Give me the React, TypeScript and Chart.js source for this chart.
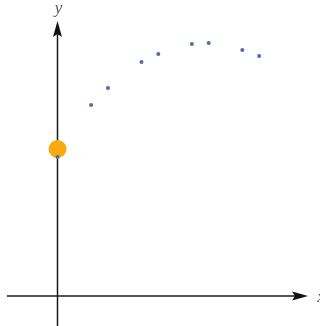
import React, { useEffect, useRef } from "react";
import { Chart, registerables } from "chart.js";

Chart.register(...registerables);

const xValues = [2, 3, 5, 6, 8, 9, 11, 12];
const yValues = [19.1, 20.8, 23.4, 24.2, 25.2, 25.3, 24.6, 24.0];
const interceptX = [0];
const interceptY = [14.7];
const hiddenDotY = [13.9];

const axisPlugin = {
  id: "arrowAxes",
  beforeDatasetsDraw(chart: any) {
    const { ctx, scales, height } = chart;
    const x0 = scales.x.getPixelForValue(0);
    const y0 = scales.y.getPixelForValue(0);
    ctx.save();
    ctx.strokeStyle = "#1a1a1a";
    ctx.fillStyle = "#111";
    ctx.lineWidth = 1.5;
    // x axis
    ctx.beginPath();
    ctx.moveTo(7, y0);
    ctx.lineTo(297, y0);
    ctx.stroke();
    ctx.beginPath();
    ctx.moveTo(308, y0);
    ctx.lineTo(292, y0 - 4.5);
    ctx.lineTo(295, y0);
    ctx.lineTo(292, y0 + 4.5);
    ctx.closePath();
    ctx.fill();
    // y axis
    ctx.beginPath();
    ctx.moveTo(x0, height);
    ctx.lineTo(x0, 32);
    ctx.stroke();
    ctx.beginPath();
    ctx.moveTo(x0, 21);
    ctx.lineTo(x0 - 4.5, 37);
    ctx.lineTo(x0, 34);
    ctx.lineTo(x0 + 4.5, 37);
    ctx.closePath();
    ctx.fill();
    // labels
    ctx.fillStyle = "#555";
    ctx.font = "italic 17px 'Liberation Serif', 'Times New Roman', serif";
    ctx.textAlign = "center";
    ctx.textBaseline = "middle";
    ctx.fillText("y", x0 + 1, 9);
    ctx.fillText("x", 321, y0 + 2);
    ctx.restore();
  },
};

export default function App() {
  const ref = useRef<HTMLCanvasElement>(null);
  useEffect(() => {
    document.body.style.margin = "0";
    const chart = new Chart(ref.current!, {
      type: "scatter",
      data: {
        datasets: [
          {
            data: interceptX.map((x, i) => ({ x, y: hiddenDotY[i] })),
            backgroundColor: "#4a6fa8",
            borderWidth: 0,
            pointRadius: 2,
          },
          {
            data: interceptX.map((x, i) => ({ x, y: interceptY[i] })),
            backgroundColor: "#f8aa10",
            borderWidth: 0,
            pointRadius: 9,
          },
          {
            data: xValues.map((x, i) => ({ x, y: yValues[i] })),
            backgroundColor: "#4a6fa8",
            borderWidth: 0,
            pointRadius: 2,
          },
        ],
      },
      options: {
        responsive: false,
        animation: false,
        layout: { padding: 0, autoPadding: false },
        plugins: { legend: { display: false }, tooltip: { enabled: false } },
        scales: {
          x: { type: "linear", display: false, min: -57.5 / 16.8, max: -57.5 / 16.8 + 320 / 16.8 },
          y: { type: "linear", display: false, min: -3.0, max: 29.6 },
        },
      },
      plugins: [axisPlugin],
    });
    return () => chart.destroy();
  }, []);
  return (
    <div style={{ width: 320, height: 326 }}>
      <canvas ref={ref} width={320} height={326} />
    </div>
  );
}
